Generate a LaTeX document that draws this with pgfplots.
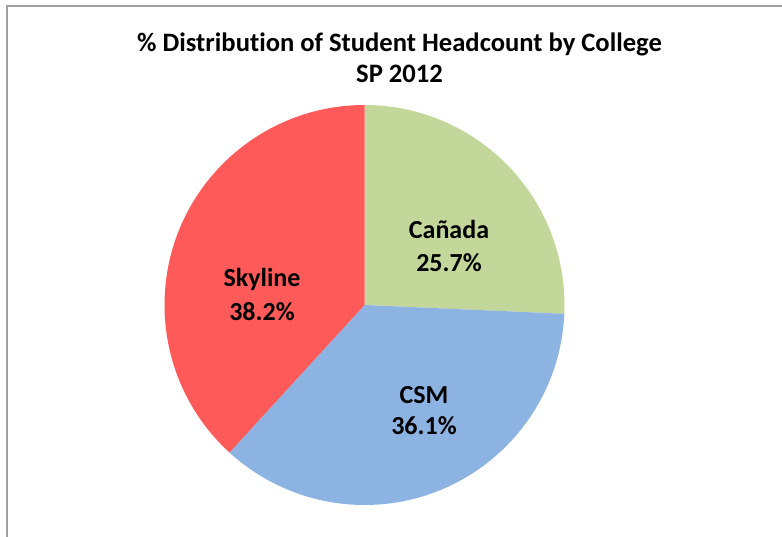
\documentclass[border=0pt]{standalone}
\usepackage{pgfplots}
\pgfplotsset{compat=1.18}
\usepackage{pgfplotstable}
\usepackage{fontspec}
\setmainfont{Carlito}[Ligatures=NoCommon]

\definecolor{canada}{HTML}{C4D79B}
\definecolor{csm}{HTML}{8DB3E2}
\definecolor{skyline}{HTML}{FF5A5A}
\definecolor{frame}{HTML}{A0A0A0}

% share of headcount, SP 2012
\pgfplotstableread{
college value
Canada  25.7
CSM     36.1
Skyline 38.2
}\piedata

\pgfplotstablegetelem{0}{value}\of\piedata \let\va\pgfplotsretval
\pgfplotstablegetelem{1}{value}\of\piedata \let\vb\pgfplotsretval
\pgfplotstablegetelem{2}{value}\of\piedata \let\vc\pgfplotsretval
% slices run clockwise from 12 o'clock
\pgfmathsetmacro\aA{90-3.6*\va}
\pgfmathsetmacro\aB{\aA-3.6*\vb}
\pgfmathsetmacro\aC{\aB-3.6*\vc}

\newcommand\lbl{\fontsize{26bp}{31bp}\selectfont\bfseries}
\newcommand\ttl{\fontsize{26.6bp}{31bp}\selectfont\bfseries}

\begin{document}
\begin{tikzpicture}
\useasboundingbox (0,0) rectangle (782bp,537bp);
\begin{axis}[
    width=782bp, height=537bp, scale only axis,
    xmin=0, xmax=782, ymin=0, ymax=537,
    hide axis, clip=false,
]
% pie, centre (364.5,232), radius 200
\fill[canada]  (axis cs:364.5,232) -- ++(90:200bp)  arc[start angle=90,  end angle=\aA, radius=200bp] -- cycle;
\fill[csm]     (axis cs:364.5,232) -- ++(\aA:200bp) arc[start angle=\aA, end angle=\aB, radius=200bp] -- cycle;
\fill[skyline] (axis cs:364.5,232) -- ++(\aB:200bp) arc[start angle=\aB, end angle=\aC, radius=200bp] -- cycle;

% chart frame (left and top edges show)
\draw[frame, line width=2bp] (axis cs:7,0) -- (axis cs:7,531) -- (axis cs:782,531);

% title
\node[anchor=base, font=\ttl] at (axis cs:399.5,485) {\% Distribution of Student Headcount by College};
\node[anchor=base, font=\ttl] at (axis cs:399.5,454) {SP 2012};

% data labels
\node[anchor=base, font=\lbl] at (axis cs:449,298) {Cañada};
\node[anchor=base, font=\lbl] at (axis cs:449,265) {25.7\%};
\node[anchor=base, font=\lbl] at (axis cs:424,133) {CSM};
\node[anchor=base, font=\lbl] at (axis cs:424,102) {36.1\%};
\node[anchor=base, font=\lbl] at (axis cs:262,250) {Skyline};
\node[anchor=base, font=\lbl] at (axis cs:262,216) {38.2\%};
\end{axis}
\end{tikzpicture}
\end{document}
